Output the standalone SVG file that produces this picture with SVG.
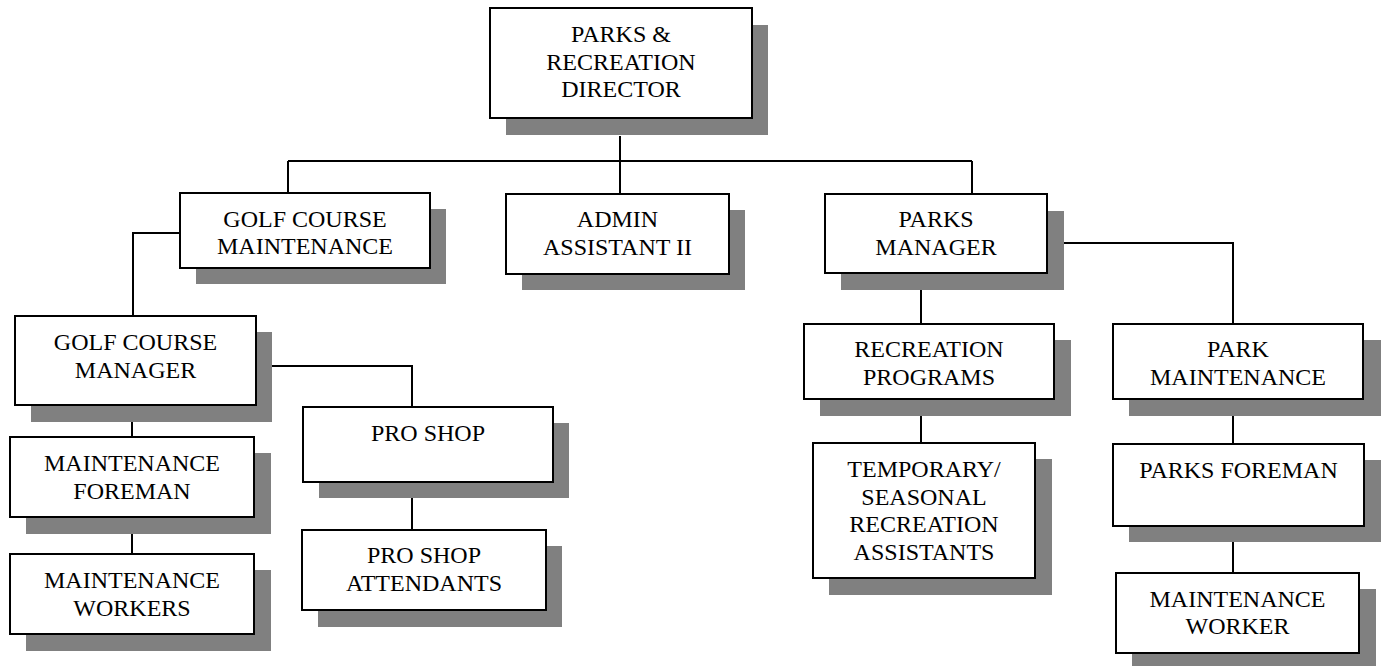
<svg xmlns="http://www.w3.org/2000/svg" width="1381" height="666" viewBox="0 0 1381 666">
<style>
.sh{fill:#808080}
.bx{fill:#fff;stroke:#000;stroke-width:2}
.t{font-family:"Liberation Serif","Times New Roman",serif;font-size:24px;fill:#000;text-anchor:middle}
.c{fill:none;stroke:#000;stroke-width:2}
</style>
<rect width="1381" height="666" fill="#fff"/>
<g id="connectors">
<path class="c" d="M620 136V194M288 161H972M288 161V193M972 161V194"/>
<path class="c" d="M180 233H133V316"/>
<path class="c" d="M272 366H412V407"/>
<path class="c" d="M132 422V437M132 534V554"/>
<path class="c" d="M412 498V530"/>
<path class="c" d="M1064 243H1233V324"/>
<path class="c" d="M921 290V324M921 416V443"/>
<path class="c" d="M1233 416V444M1233 542V573"/>
</g>
<g id="director">
<rect class="sh" x="506" y="25" width="262" height="110"/>
<rect class="bx" x="490" y="8" width="262" height="110"/>
<text class="t" x="621" y="42">PARKS &amp;</text>
<text class="t" x="621" y="69.5">RECREATION</text>
<text class="t" x="621" y="97">DIRECTOR</text>
</g>
<g id="golf-course-maintenance">
<rect class="sh" x="196" y="209" width="250" height="75"/>
<rect class="bx" x="180" y="193" width="250" height="75"/>
<text class="t" x="305" y="227">GOLF COURSE</text>
<text class="t" x="305" y="254">MAINTENANCE</text>
</g>
<g id="admin-assistant">
<rect class="sh" x="522" y="210" width="223" height="80"/>
<rect class="bx" x="506" y="194" width="223" height="80"/>
<text class="t" x="617.5" y="227">ADMIN</text>
<text class="t" x="617.5" y="254.5">ASSISTANT II</text>
</g>
<g id="parks-manager">
<rect class="sh" x="841" y="211" width="223" height="79"/>
<rect class="bx" x="825" y="194" width="222" height="79"/>
<text class="t" x="936" y="227">PARKS</text>
<text class="t" x="936" y="254.5">MANAGER</text>
</g>
<g id="golf-course-manager">
<rect class="sh" x="31" y="332" width="241" height="90"/>
<rect class="bx" x="15" y="316" width="241" height="89"/>
<text class="t" x="135.5" y="350">GOLF COURSE</text>
<text class="t" x="135.5" y="377.5">MANAGER</text>
</g>
<g id="maintenance-foreman">
<rect class="sh" x="26" y="453" width="245" height="81"/>
<rect class="bx" x="10" y="437" width="244" height="80"/>
<text class="t" x="132" y="471">MAINTENANCE</text>
<text class="t" x="132" y="498.5">FOREMAN</text>
</g>
<g id="maintenance-workers">
<rect class="sh" x="26" y="570" width="245" height="81"/>
<rect class="bx" x="10" y="554" width="244" height="80"/>
<text class="t" x="132" y="588">MAINTENANCE</text>
<text class="t" x="132" y="615.5">WORKERS</text>
</g>
<g id="pro-shop">
<rect class="sh" x="319" y="423" width="250" height="75"/>
<rect class="bx" x="303" y="407" width="250" height="75"/>
<text class="t" x="428" y="440.5">PRO SHOP</text>
</g>
<g id="pro-shop-attendants">
<rect class="sh" x="318" y="546" width="244" height="81"/>
<rect class="bx" x="302" y="530" width="244" height="80"/>
<text class="t" x="424" y="563">PRO SHOP</text>
<text class="t" x="424" y="590.5">ATTENDANTS</text>
</g>
<g id="recreation-programs">
<rect class="sh" x="820" y="340" width="251" height="76"/>
<rect class="bx" x="804" y="324" width="250" height="75"/>
<text class="t" x="929" y="357">RECREATION</text>
<text class="t" x="929" y="384.5">PROGRAMS</text>
</g>
<g id="park-maintenance">
<rect class="sh" x="1129" y="340" width="252" height="76"/>
<rect class="bx" x="1113" y="324" width="250" height="75"/>
<text class="t" x="1238" y="357">PARK</text>
<text class="t" x="1238" y="384.5">MAINTENANCE</text>
</g>
<g id="temporary-seasonal">
<rect class="sh" x="829" y="459" width="223" height="136"/>
<rect class="bx" x="813" y="443" width="222" height="135"/>
<text class="t" x="924" y="477">TEMPORARY/</text>
<text class="t" x="924" y="504.5">SEASONAL</text>
<text class="t" x="924" y="532">RECREATION</text>
<text class="t" x="924" y="559.5">ASSISTANTS</text>
</g>
<g id="parks-foreman">
<rect class="sh" x="1129" y="460" width="252" height="82"/>
<rect class="bx" x="1113" y="444" width="251" height="82"/>
<text class="t" x="1238.5" y="477.5">PARKS FOREMAN</text>
</g>
<g id="maintenance-worker">
<rect class="sh" x="1132" y="589" width="244" height="77"/>
<rect class="bx" x="1116" y="573" width="243" height="80"/>
<text class="t" x="1237.5" y="606.5">MAINTENANCE</text>
<text class="t" x="1237.5" y="634">WORKER</text>
</g>
</svg>
